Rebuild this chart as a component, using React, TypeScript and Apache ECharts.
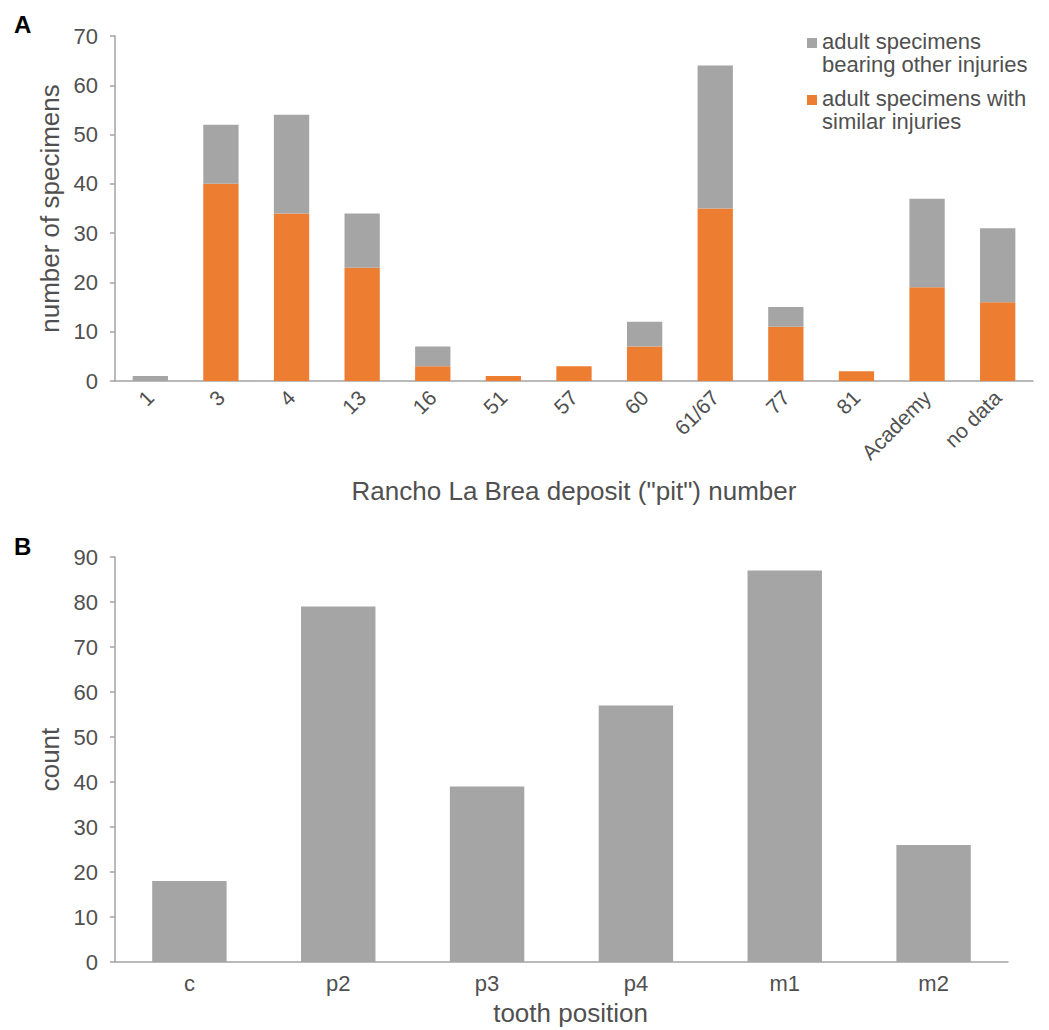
import React, { useEffect, useRef } from "react";
import * as echarts from "echarts";

const pitCategories = ["1", "3", "4", "13", "16", "51", "57", "60", "61/67", "77", "81", "Academy", "no data"];
const similarInjuries = [0, 40, 34, 23, 3, 1, 3, 7, 35, 11, 2, 19, 16];
const otherInjuries = [1, 12, 20, 11, 4, 0, 0, 5, 29, 4, 0, 18, 15];
const pitYTicks = { min: 0, max: 70, interval: 10 };

const toothCategories = ["c", "p2", "p3", "p4", "m1", "m2"];
const toothCounts = [18, 79, 39, 57, 87, 26];
const toothYTicks = { min: 0, max: 90, interval: 10 };

const FONT = "Liberation Sans, Arial, Helvetica, sans-serif";
const TEXT = "#505050";
const AXIS = "#a3a3a3";
const GRAY = "#a5a5a5";
const ORANGE = "#ed7d31";
const LEGEND_ICON = "path://M0,0H0.01V0.01H0Z M0,8H10V18H0Z M0,46H0.01V46.01H0Z";

export default function App() {
  const ref = useRef<HTMLDivElement>(null);
  useEffect(() => {
    if (!ref.current) return;
    const chart = echarts.init(ref.current, undefined, { renderer: "svg" });
    const yAxisCommon = {
      type: "value" as const,
      nameLocation: "middle" as const,
      nameRotate: 90,
      nameTextStyle: { color: TEXT, fontSize: 26, fontFamily: FONT },
      axisLine: { show: true, lineStyle: { color: AXIS, width: 1.5 } },
      axisTick: { show: true, length: 5, lineStyle: { color: AXIS, width: 1.5 } },
      axisLabel: { color: TEXT, fontSize: 22, fontFamily: FONT, margin: 17 },
      splitLine: { show: false },
    };
    chart.setOption({
      animation: false,
      textStyle: { fontFamily: FONT },
      grid: [
        { left: 115, top: 36, width: 918, height: 345, outerBoundsMode: "none", containLabel: false },
        { left: 115, top: 557, width: 893, height: 405, outerBoundsMode: "none", containLabel: false },
      ],
      legend: {
        left: 807,
        top: 30,
        padding: 0,
        orient: "vertical",
        itemWidth: 10,
        itemHeight: 46,
        itemGap: 11,
        icon: LEGEND_ICON,
        selectedMode: false,
        data: ["adult specimens\nbearing other injuries", "adult specimens with\nsimilar injuries"],
        textStyle: { color: TEXT, fontSize: 22, fontFamily: FONT, lineHeight: 23 },
      },
      xAxis: [
        {
          type: "category",
          gridIndex: 0,
          data: pitCategories,
          name: "Rancho La Brea deposit (\"pit\") number",
          nameLocation: "middle",
          nameGap: 97,
          nameTextStyle: { color: TEXT, fontSize: 26, fontFamily: FONT },
          axisLine: { lineStyle: { color: AXIS, width: 1.5 } },
          axisTick: { show: false },
          axisLabel: { color: TEXT, fontSize: 21, fontFamily: FONT, rotate: 45, margin: 13, interval: 0 },
        },
        {
          type: "category",
          gridIndex: 1,
          data: toothCategories,
          name: "tooth position",
          nameLocation: "middle",
          nameGap: 38,
          nameTextStyle: { color: TEXT, fontSize: 26, fontFamily: FONT, padding: [0, 0, 0, 18] },
          axisLine: { lineStyle: { color: AXIS, width: 1.5 } },
          axisTick: { show: false },
          axisLabel: { color: TEXT, fontSize: 22, fontFamily: FONT, margin: 10 },
        },
      ],
      yAxis: [
        { ...yAxisCommon, gridIndex: 0, ...pitYTicks, name: "number of specimens", nameGap: 52 },
        { ...yAxisCommon, gridIndex: 1, ...toothYTicks, name: "count", nameGap: 52 },
      ],
      series: [
        {
          name: "adult specimens with\nsimilar injuries",
          type: "bar",
          stack: "pit",
          xAxisIndex: 0,
          yAxisIndex: 0,
          barWidth: "50%",
          data: similarInjuries,
          itemStyle: { color: ORANGE },
        },
        {
          name: "adult specimens\nbearing other injuries",
          type: "bar",
          stack: "pit",
          xAxisIndex: 0,
          yAxisIndex: 0,
          barWidth: "50%",
          data: otherInjuries,
          itemStyle: { color: GRAY },
        },
        {
          name: "count",
          type: "bar",
          xAxisIndex: 1,
          yAxisIndex: 1,
          barWidth: "50%",
          data: toothCounts,
          itemStyle: { color: GRAY },
        },
      ],
      graphic: [
        { type: "text", left: 14, top: 12, style: { text: "A", fontSize: 24, fontWeight: "bold", fill: "#000", fontFamily: FONT } },
        { type: "text", left: 14, top: 534, style: { text: "B", fontSize: 24, fontWeight: "bold", fill: "#000", fontFamily: FONT } },
      ],
    });
    return () => chart.dispose();
  }, []);
  return <div ref={ref} style={{ position: "fixed", left: 0, top: 0, width: 1049, height: 1030, background: "#fff" }} />;
}
